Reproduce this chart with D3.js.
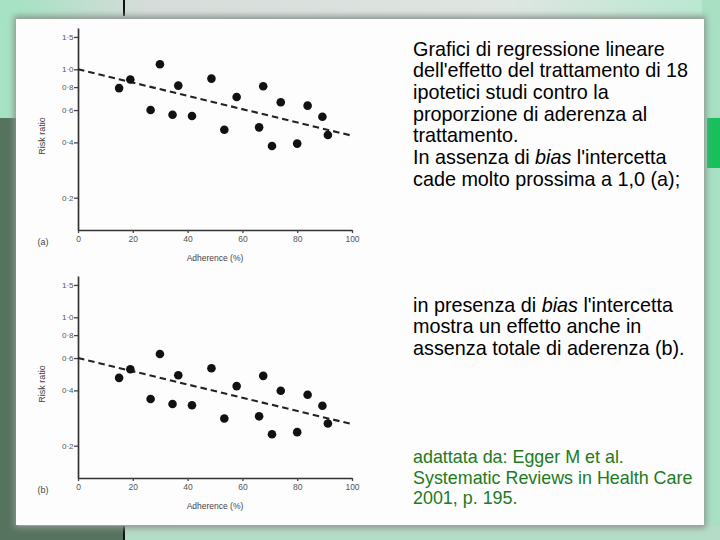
<!DOCTYPE html>
<html>
<head>
<meta charset="utf-8">
<script src="https://cdn.jsdelivr.net/npm/d3@7/dist/d3.min.js"></script>
<style>
html,body{margin:0;padding:0;background:#cfd8d3;}
svg{display:block;}
</style>
</head>
<body>
<svg id="c" width="720" height="540"></svg>
<script>
// ---- data ----
const adherence = [15.0, 19.1, 29.9, 26.5, 36.6, 34.5, 41.6, 48.7, 53.4, 57.9, 66.1, 67.6, 70.8, 74.0, 80.0, 83.8, 89.2, 91.2];
const riskA = [0.79, 0.88, 1.065, 0.60, 0.815, 0.566, 0.557, 0.89, 0.469, 0.707, 0.483, 0.808, 0.382, 0.661, 0.394, 0.634, 0.552, 0.439];
const riskB = [0.468, 0.521, 0.631, 0.359, 0.484, 0.337, 0.332, 0.528, 0.281, 0.422, 0.289, 0.48, 0.231, 0.398, 0.237, 0.379, 0.330, 0.264];
const fitA = [[0, 1.0], [100, 0.435]];
const fitB = [[0, 0.6], [100, 0.262]];
const yTicks = [0.2, 0.4, 0.6, 0.8, 1.0, 1.5];
const xTicks = [0, 20, 40, 60, 80, 100];
const panelLabels = ["(a)", "(b)"];
const xTitle = "Adherence (%)";
const yTitle = "Risk ratio";
const text1 = [
  ["Grafici di regressione lineare"],
  ["dell'effetto del trattamento di 18"],
  ["ipotetici studi contro la"],
  ["proporzione di aderenza al"],
  ["trattamento."],
  ["In assenza di ", "bias", " l'intercetta"],
  ["cade molto prossima a 1,0 (a);"]
];
const text2 = [
  ["in presenza di ", "bias", " l'intercetta"],
  ["mostra un effetto anche in"],
  ["assenza totale di aderenza (b)."]
];
const text3 = [
  "adattata da: Egger M et al.",
  "Systematic Reviews in Health Care",
  "2001, p. 195."
];

const svg = d3.select("#c");
const defs = svg.append("defs");

// ---- slide background ----
const gTop = defs.append("linearGradient").attr("id","gtop").attr("x1",0).attr("x2",1);
gTop.append("stop").attr("offset","0").attr("stop-color","#9fe3c0");
gTop.append("stop").attr("offset","0.2").attr("stop-color","#d6dcd9");
gTop.append("stop").attr("offset","0.7").attr("stop-color","#dfe6e2");
gTop.append("stop").attr("offset","1").attr("stop-color","#b6e8cf");
svg.append("rect").attr("x",0).attr("y",0).attr("width",720).attr("height",540).attr("fill","url(#gtop)");
// left band
svg.append("rect").attr("x",0).attr("y",0).attr("width",18).attr("height",118).attr("fill","#a6e2c3");
svg.append("rect").attr("x",0).attr("y",118).attr("width",18).attr("height",422).attr("fill","#56735f");
// right band
svg.append("rect").attr("x",702).attr("y",0).attr("width",18).attr("height",540).attr("fill","#a9e0c4");
svg.append("rect").attr("x",707).attr("y",118).attr("width",13).attr("height",50).attr("fill","#17c05d");
// bottom band
svg.append("rect").attr("x",0).attr("y",526).attr("width",720).attr("height",14).attr("fill","#b5dcc6");
svg.append("rect").attr("x",0).attr("y",526).attr("width",124).attr("height",14).attr("fill","#56735f");
// black marks
svg.append("rect").attr("x",123).attr("y",0).attr("width",2).attr("height",16).attr("fill","#111");
svg.append("rect").attr("x",123).attr("y",526).attr("width",2).attr("height",14).attr("fill","#111");

// panel with soft shadow
const flt = defs.append("filter").attr("id","sh").attr("x","-5%").attr("y","-5%").attr("width","110%").attr("height","110%");
flt.append("feGaussianBlur").attr("stdDeviation",3);
svg.append("rect").attr("x",14).attr("y",16).attr("width",692).attr("height",512).attr("fill","#8a948f").attr("filter","url(#sh)");
svg.append("rect").attr("x",16).attr("y",19).attr("width",688).attr("height",506).attr("fill","#fdfdfd");

// ---- charts ----
const font = "Liberation Sans, Arial, sans-serif";
const x = d3.scaleLinear().domain([0,100]).range([78,352]);
const fmt = d => d3.format(".1f")(d).replace(".", "\u00b7");

function chart(top, bottom, values, fit, label){
  const y = d3.scaleLog().domain([0.1334, 1.678]).range([bottom, top]);
  const g = svg.append("g");
  // y axis
  const ya = g.append("g").attr("transform",`translate(${x(0)},0)`)
    .call(d3.axisLeft(y).tickValues(yTicks).tickFormat(fmt).tickSize(4).tickSizeOuter(0));
  ya.select(".domain").attr("stroke","#333").attr("stroke-width",1.7);
  ya.selectAll(".tick line").attr("stroke","#444").attr("stroke-width",1.3);
  ya.selectAll(".tick text").attr("fill","#555").attr("font-family",font).attr("font-size",8).attr("x",-4.5);
  // x axis
  const xa = g.append("g").attr("transform",`translate(0,${bottom})`)
    .call(d3.axisBottom(x).tickValues(xTicks).tickFormat(d3.format("d")).tickSize(3).tickSizeOuter(0));
  xa.select(".domain").attr("stroke","#333").attr("stroke-width",1.7);
  xa.selectAll(".tick line").attr("stroke","#444").attr("stroke-width",1.3);
  xa.selectAll(".tick text").attr("fill","#555").attr("font-family",font).attr("font-size",8.5).attr("y",6);
  // titles
  g.append("text").attr("x",(x(0)+x(100))/2).attr("y",bottom+31).attr("text-anchor","middle")
    .attr("font-family",font).attr("font-size",8.5).attr("fill","#444").text(xTitle);
  g.append("text").attr("transform",`translate(45,${(top+bottom)/2+7}) rotate(-90)`).attr("text-anchor","middle")
    .attr("font-family",font).attr("font-size",9).attr("fill","#444").text(yTitle);
  g.append("text").attr("x",43).attr("y",bottom+15).attr("text-anchor","middle")
    .attr("font-family",font).attr("font-size",9).attr("fill","#444").text(label);
  // fit line
  g.append("path").datum(fit)
    .attr("d", d3.line().x(d=>x(d[0])).y(d=>y(d[1])))
    .attr("stroke","#222").attr("stroke-width",2.1).attr("stroke-dasharray","6.5,4").attr("fill","none");
  // points
  g.selectAll("circle.pt").data(adherence.map((a,i)=>[a, values[i]])).enter().append("circle")
    .attr("cx", d=>x(d[0])).attr("cy", d=>y(d[1])).attr("r",4.3).attr("fill","#111");
}
chart(28, 230, riskA, fitA, panelLabels[0]);
chart(276, 478, riskB, fitB, panelLabels[1]);

// ---- text blocks ----
function block(lines, y0, lh, color, size){
  lines.forEach((parts, i) => {
    const t = svg.append("text").attr("x",413).attr("y", y0 + i*lh)
      .attr("font-family",font).attr("font-size",size).attr("fill",color);
    (Array.isArray(parts)?parts:[parts]).forEach(p => {
      const s = t.append("tspan").text(p);
      if (p === "bias") s.attr("font-style","italic");
    });
  });
}
block(text1, 55.5, 21.7, "#000", 19.8);
block(text2, 311.5, 21.5, "#000", 19.8);
block(text3, 463, 20.5, "#217a21", 17.9);
</script>
</body>
</html>
